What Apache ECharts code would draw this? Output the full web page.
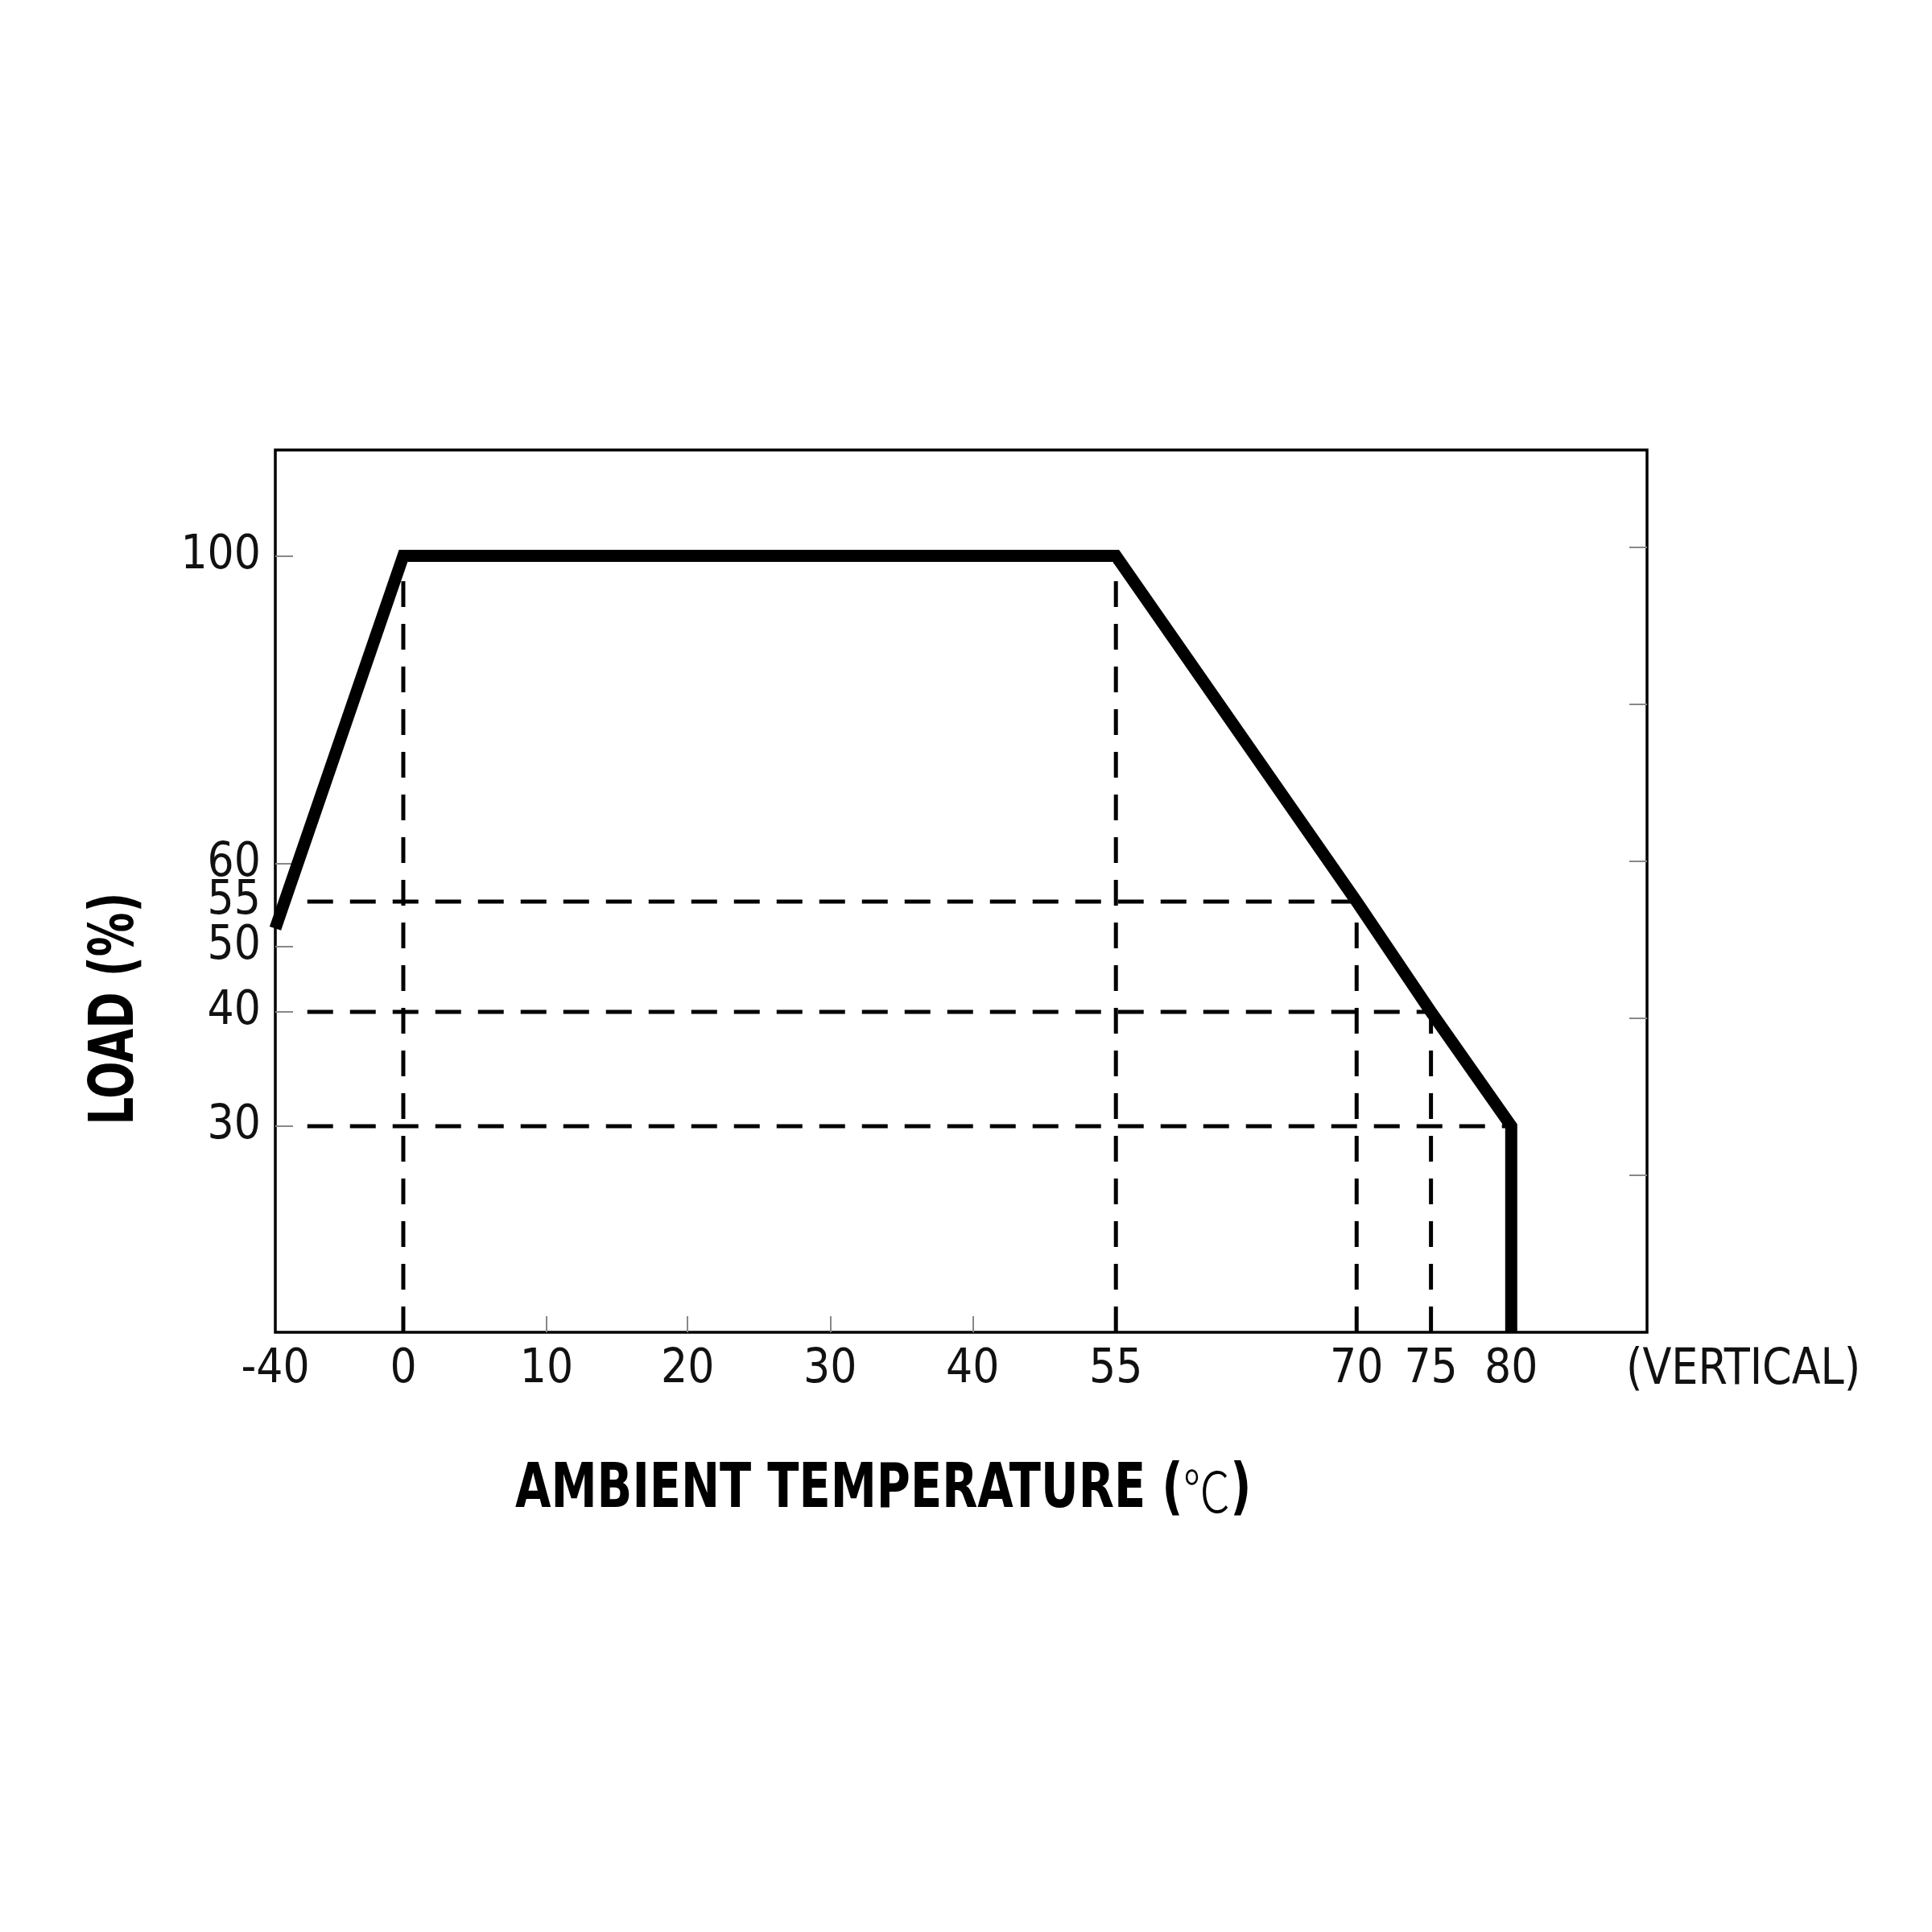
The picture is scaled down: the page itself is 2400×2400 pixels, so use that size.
<!DOCTYPE html>
<html>
<head>
<meta charset="utf-8">
<script src="https://cdn.jsdelivr.net/npm/echarts@6/dist/echarts.min.js"></script>
<style>
html,body{margin:0;padding:0;background:#fff;}
#chart{width:2400px;height:2400px;}
</style>
</head>
<body>
<div id="chart"></div>
<script>
// ---- data ----
const tempTickLabels = [-40, 0, 10, 20, 30, 40, 55, 70, 75, 80];
const tempMinorTicks = [10, 20, 30, 40];
const loadTickLabels = [30, 40, 50, 55, 60, 100];
const loadLeftTicks = [30, 40, 50, 60, 100];
const rightLinearTicks = [20, 40, 60, 80, 100];

const curveTemp = [-40, 0, 55, 70, 75, 80, 80];
const curveLoad = [52, 100, 100, 55, 40, 30, 0];

const vGuideTemp = [0, 55, 70, 75];
const vGuideTop  = [100, 100, 55, 40];
const hGuideLoad = [55, 40, 30];
const hGuideEnd  = [70, 75, 80];
const hGuideStart = -30;

// ---- the original's hand-drawn, non-uniform axes (knots: value -> % of plot) ----
const xKnotTemp = [-40, 0, 10, 20, 30, 40, 55, 70, 75, 80, 88.6];
const xKnotPos  = [0, 9.33, 19.77, 30.06, 40.45, 50.84, 61.28, 78.83, 84.25, 90.1, 100];
const yKnotLoad = [0, 30, 40, 50, 55, 60, 100, 113.75];
const yKnotPos  = [0, 23.36, 36.31, 43.75, 48.81, 53.10, 88.0, 100];
const rightAxisMax = 112.4;

function interp(v, xs, ys) {
  for (let i = 0; i < xs.length - 1; i++) {
    if (v <= xs[i + 1] || i === xs.length - 2) {
      const t = (v - xs[i]) / (xs[i + 1] - xs[i]);
      return ys[i] + t * (ys[i + 1] - ys[i]);
    }
  }
}
const sx = t => interp(t, xKnotTemp, xKnotPos);
const sy = l => interp(l, yKnotLoad, yKnotPos);
function labelFor(v, labels, scale) {
  for (const k of labels) if (Math.abs(scale(k) - v) < 0.01) return String(k);
  return '';
}

const NARROW = "'Liberation Sans Narrow','Arial Narrow','DejaVu Sans Condensed','Liberation Sans',sans-serif";

const series = [];
series.push({
  type: 'line',
  data: curveTemp.map((t, i) => [sx(t), sy(curveLoad[i])]),
  showSymbol: false,
  clip: false,
  z: 5,
  lineStyle: { color: '#000', width: 15, join: 'miter', cap: 'butt' }
});
vGuideTemp.forEach((t, i) => {
  series.push({
    type: 'line',
    data: [[sx(t), sy(0)], [sx(t), sy(vGuideTop[i])]],
    showSymbol: false, z: 3,
    lineStyle: { color: '#000', width: 5, type: [32, 21] }
  });
});
hGuideLoad.forEach((l, i) => {
  series.push({
    type: 'line',
    data: [[sx(hGuideStart), sy(l)], [sx(hGuideEnd[i]), sy(l)]],
    showSymbol: false, z: 3,
    lineStyle: { color: '#000', width: 5, type: [32, 21] }
  });
});

const chart = echarts.init(document.getElementById('chart'), null, { renderer: 'canvas' });
chart.setOption({
  animation: false,
  backgroundColor: '#fff',
  grid: { left: 342, top: 559, width: 1704, height: 1096, show: true, borderColor: '#000', borderWidth: 3.5, backgroundColor: 'transparent' },
  xAxis: {
    type: 'value', min: 0, max: 100,
    axisLine: { show: false },
    splitLine: { show: false },
    axisTick: { show: true, inside: true, length: 20, lineStyle: { color: '#888', width: 2 }, customValues: tempMinorTicks.map(sx) },
    axisLabel: {
      customValues: tempTickLabels.map(sx),
      formatter: v => labelFor(v, tempTickLabels, sx),
      fontFamily: NARROW, fontSize: 58, color: '#111', margin: 18
    }
  },
  yAxis: [{
    type: 'value', min: 0, max: 100, position: 'left',
    axisLine: { show: false },
    splitLine: { show: false },
    axisTick: { show: true, inside: true, length: 22, lineStyle: { color: '#888', width: 2 }, customValues: loadLeftTicks.map(sy) },
    axisLabel: {
      customValues: loadTickLabels.map(sy),
      formatter: v => labelFor(v, loadTickLabels, sy),
      fontFamily: NARROW, fontSize: 58, color: '#111', margin: 18
    }
  }, {
    type: 'value', min: 0, max: rightAxisMax, position: 'right',
    axisLine: { show: false },
    splitLine: { show: false },
    axisLabel: { show: false },
    axisTick: { show: true, inside: true, length: 22, lineStyle: { color: '#888', width: 2 }, customValues: rightLinearTicks }
  }],
  series: series,
  graphic: [
    {
      type: 'text', x: 640, y: 1852, scaleX: 0.84,
      style: {
        text: '{b|AMBIENT TEMPERATURE (}{c|℃}{b|)}',
        verticalAlign: 'middle', align: 'left',
        rich: {
          b: { fontFamily: NARROW, fontWeight: 'bold', fontSize: 76, fill: '#000' },
          c: { fontFamily: "'Noto Sans CJK SC',sans-serif", fontWeight: 300, fontSize: 70, fill: '#000' }
        }
      }
    },
    {
      type: 'text', x: 2020, y: 1703, scaleX: 0.94,
      style: { text: '(VERTICAL)', fontFamily: NARROW, fontSize: 62, fill: '#111', align: 'left', verticalAlign: 'middle' }
    },
    {
      type: 'text', x: 145, y: 1253, rotation: Math.PI / 2, scaleX: 0.8,
      style: { text: 'LOAD (%)', fontFamily: NARROW, fontWeight: 'bold', fontSize: 76, fill: '#000', align: 'center', verticalAlign: 'middle' }
    }
  ]
});
</script>
</body>
</html>
